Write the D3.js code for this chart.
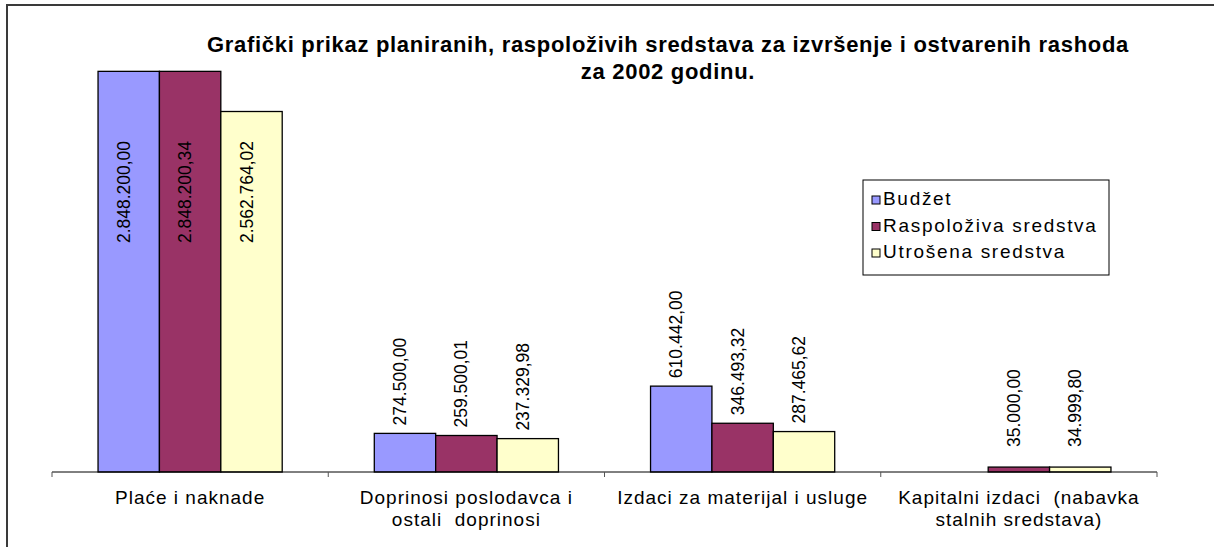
<!DOCTYPE html>
<html>
<head>
<meta charset="utf-8">
<script src="https://cdn.jsdelivr.net/npm/d3@7"></script>
<style>
  body { margin: 0; background: #fff; }
  svg text { font-family: "Liberation Sans", Arial, sans-serif; white-space: pre; }
</style>
</head>
<body>
<div id="chart"></div>
<script>
// data
var categories = ["Plaće i naknade", "Doprinosi poslodavca i ostali  doprinosi", "Izdaci za materijal i usluge", "Kapitalni izdaci  (nabavka stalnih sredstava)"]
var categoryLines = [["Plaće i naknade"], ["Doprinosi poslodavca i", "ostali  doprinosi"], ["Izdaci za materijal i usluge"], ["Kapitalni izdaci  (nabavka", "stalnih sredstava)"]]
var seriesNames = ["Budžet", "Raspoloživa sredstva", "Utrošena sredstva"]
var budzet = [2848200.00, 274500.00, 610442.00, null]
var raspolozivo = [2848200.34, 259500.01, 346493.32, 35000.00]
var utroseno = [2562764.02, 237329.98, 287465.62, 34999.80]
var seriesValues = [budzet, raspolozivo, utroseno]
var colors = ["#9999FF", "#993366", "#FFFFCC"]
var titleLines = ["Grafički prikaz planiranih, raspoloživih sredstava za izvršenje i ostvarenih rashoda", "za 2002 godinu."]

var W = 1214, H = 547
var plot = { left: 52, right: 1157, top: 50, bottom: 472 }

var svg = d3.select("#chart").append("svg")
  .attr("width", W)
  .attr("height", H)

// outer chart frame (right and bottom edges fall outside the picture)
svg.append("rect")
  .attr("x", 7).attr("y", 5)
  .attr("width", 1240).attr("height", 570)
  .attr("fill", "#fff")
  .attr("stroke", "#3a3a3a")
  .attr("stroke-width", 2)

var x0 = d3.scaleBand().domain(categories).range([plot.left, plot.right])
var bw = x0.bandwidth() / 4.5   // excel gap width 150%
var x1 = d3.scaleBand().domain(seriesNames).range([0.75 * bw, 3.75 * bw])
var y = d3.scaleLinear().domain([0, 3000000]).range([plot.bottom, plot.top])

var fmt = d3.formatLocale({ decimal: ",", thousands: ".", grouping: [3], currency: ["", ""] }).format(",.2f")

// bars
var rows = []
categories.forEach(function (c, i) {
  seriesNames.forEach(function (s, j) {
    if (seriesValues[j][i] != null) rows.push({ cat: c, ser: s, j: j, v: seriesValues[j][i] })
  })
})

svg.append("g").selectAll("rect")
  .data(rows)
  .join("rect")
  .attr("x", d => x0(d.cat) + x1(d.ser))
  .attr("y", d => y(d.v))
  .attr("width", x1.bandwidth())
  .attr("height", d => y(0) - y(d.v))
  .attr("fill", d => colors[d.j])
  .attr("stroke", "#000")
  .attr("stroke-width", 1.3)

// axis
var axis = svg.append("g")
axis.append("line")
  .attr("x1", plot.left).attr("x2", plot.right)
  .attr("y1", y(0)).attr("y2", y(0))
  .attr("stroke", "#000")
axis.selectAll("line.tick")
  .data(categories.map(c => x0(c)).concat([plot.right]))
  .join("line")
  .attr("class", "tick")
  .attr("x1", d => d).attr("x2", d => d)
  .attr("y1", y(0)).attr("y2", y(0) + 5)
  .attr("stroke", "#555")

axis.selectAll("text.cat")
  .data(categories)
  .join("text")
  .attr("class", "cat")
  .attr("text-anchor", "middle")
  .attr("font-size", 19)
  .attr("letter-spacing", 1)
  .each(function (c, i) {
    var t = d3.select(this)
    categoryLines[i].forEach(function (line, k) {
      t.append("tspan")
        .attr("x", x0(c) + x0.bandwidth() / 2)
        .attr("y", y(0) + 32 + k * 22)
        .text(line)
    })
  })

// value labels, rotated
svg.append("g").selectAll("text")
  .data(rows)
  .join("text")
  .attr("font-size", 17.5)
  .attr("letter-spacing", 0)
  .text(d => fmt(d.v))
  .each(function (d) {
    var t = d3.select(this)
    var len = this.getComputedTextLength()
    var cx = x0(d.cat) + x1(d.ser) + x1.bandwidth() / 2 + 1
    var bottom = Math.min(y(d.v) - 8, y(0) - 25)
    var top = bottom - len
    if (top < plot.top) {
      // label does not fit above the bar: put it inside
      t.attr("text-anchor", "middle")
        .attr("transform", "translate(" + cx + "," + (plot.top + 142) + ") rotate(-90)")
    } else {
      t.attr("text-anchor", "start")
        .attr("transform", "translate(" + cx + "," + bottom + ") rotate(-90)")
    }
  })

// title
svg.append("text")
  .attr("text-anchor", "middle")
  .attr("font-size", 22)
  .attr("font-weight", "bold")
  .attr("letter-spacing", 0.7)
  .selectAll("tspan")
  .data(titleLines)
  .join("tspan")
  .attr("x", 668)
  .attr("y", (d, i) => 52 + i * 27)
  .text(d => d)

// legend
var legend = svg.append("g").attr("transform", "translate(863,180)")
legend.append("rect")
  .attr("width", 246).attr("height", 95)
  .attr("fill", "#fff")
  .attr("stroke", "#000")
var item = legend.selectAll("g")
  .data(seriesNames)
  .join("g")
  .attr("transform", (d, i) => "translate(9," + (20 + i * 26.5) + ")")
item.append("rect")
  .attr("x", 0).attr("y", -4)
  .attr("width", 8).attr("height", 8)
  .attr("fill", (d, i) => colors[i])
  .attr("stroke", "#000")
item.append("text")
  .attr("x", 11)
  .attr("y", 5)
  .attr("font-size", 19)
  .attr("letter-spacing", 1.7)
  .text(d => d)
</script>
</body>
</html>
